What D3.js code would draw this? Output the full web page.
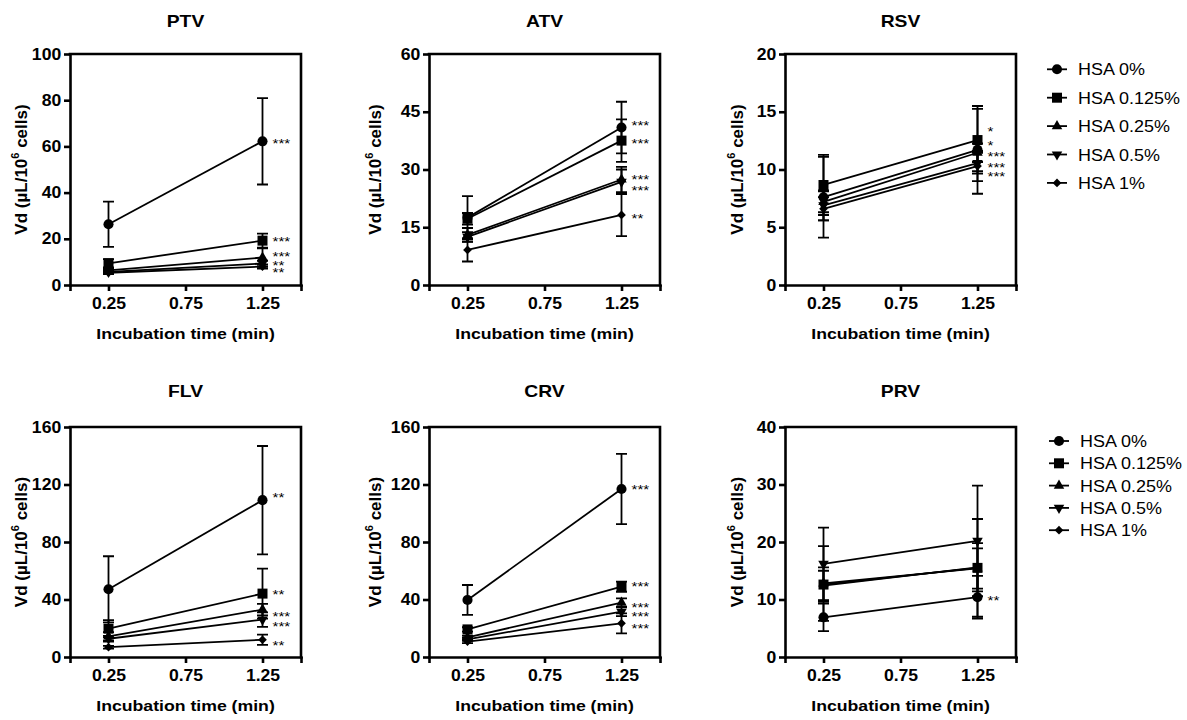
<!DOCTYPE html>
<html>
<head>
<meta charset="utf-8">
<script src="https://cdn.jsdelivr.net/npm/d3@7"></script>
<style>
  body { margin: 0; background: #fff; }
  svg { display: block; }
  text { font-family: Arial, "Liberation Sans", Helvetica, sans-serif; fill: #000; }
</style>
</head>
<body>
<svg id="chart" width="1187" height="720"></svg>
<script>
// ---- data ----
const times = [0.25, 1.25];
const xTickValues = [0.25, 0.75, 1.25];
const xTickLabels = ["0.25", "0.75", "1.25"];
const seriesNames = ["HSA 0%", "HSA 0.125%", "HSA 0.25%", "HSA 0.5%", "HSA 1%"];
const panelNames = ["PTV", "ATV", "RSV", "FLV", "CRV", "PRV"];

// mean Vd per series: [0.25 min, 1.25 min]
const ptvMean = [[26.3, 62.2], [9.4, 19.2], [6.3, 11.9], [5.7, 9.3], [5.3, 8.0]];
const ptvSD   = [[9.8, 18.7], [1.8, 3.0], [1.0, 4.0], [0.8, 1.2], [0.6, 0.9]];
const ptvStars = ["***", "***", "***", "**", "**"];
const ptvStarAt = [62.8, 20.5, 13.9, 10.1, 6.9];
const ptvTicks = [0, 20, 40, 60, 80, 100];

const atvMean = [[17.5, 40.9], [17.2, 37.5], [13.0, 27.4], [12.5, 26.8], [9.1, 18.2]];
const atvSD   = [[5.6, 6.7], [1.5, 5.5], [1.8, 3.3], [1.2, 3.2], [3.0, 5.5]];
const atvStars = ["***", "***", "***", "***", "**"];
const atvStarAt = [42.3, 37.7, 28.3, 25.5, 18.2];
const atvTicks = [0, 15, 30, 45, 60];

const rsvMean = [[7.6, 11.7], [8.66, 12.55], [7.2, 11.45], [6.9, 10.55], [6.6, 10.3]];
const rsvSD   = [[3.5, 3.8], [2.6, 2.7], [0.9, 0.8], [1.3, 0.9], [1.0, 1.3]];
const rsvStars = ["*", "*", "***", "***", "***"];
const rsvStarAt = [13.6, 12.4, 11.45, 10.5, 9.7];
const rsvTicks = [0, 5, 10, 15, 20];

const flvMean = [[47.1, 109.1], [19.7, 44.1], [14.3, 33.0], [12.7, 26.0], [6.8, 12.0]];
const flvSD   = [[23.0, 37.7], [6.0, 17.4], [3.0, 4.0], [2.0, 5.0], [1.0, 3.6]];
const flvStars = ["**", "**", "***", "***", "**"];
const flvStarAt = [113.3, 46.4, 30.8, 23.8, 10.8];
const flvTicks = [0, 40, 80, 120, 160];

const crvMean = [[39.7, 116.9], [19.2, 48.9], [13.7, 37.8], [12.3, 31.5], [10.7, 23.4]];
const crvSD   = [[10.4, 24.4], [1.5, 3.5], [1.2, 3.0], [1.0, 3.0], [1.0, 7.0]];
const crvStars = ["***", "***", "***", "***", "***"];
const crvStarAt = [119.0, 51.7, 37.3, 30.8, 22.7];
const crvTicks = [0, 40, 80, 120, 160];

const prvMean = [[6.9, 10.4], [12.6, 15.5], [12.8, 15.4], [16.2, 20.2], [12.4, 15.6]];
const prvSD   = [[2.4, 3.7], [3.0, 8.5], [6.5, 3.5], [6.3, 9.6], [2.6, 4.2]];
const prvStars = ["**", "", "", "", ""];
const prvStarAt = [10.5, 0, 0, 0, 0];
const prvTicks = [0, 10, 20, 30, 40];

const yAxisTitle = "Vd (µL/10";
const yAxisSup = "6";
const yAxisTail = " cells)";
const xAxisTitle = "Incubation time (min)";

// ---- layout ----
const layout = {
  cols: [70, 429, 785],
  rows: [54, 427],
  width: 231,
  heights: [231, 230],
  titleY: [26.5, 397],
  yLabelX: [21, 375, 737],
  legendX: [1047, 1049],
  legendY0: [69.3, 441],
  legendDy: [28.4, 22.3]
};

const panels = [
  { mean: ptvMean, sd: ptvSD, stars: ptvStars, starAt: ptvStarAt, ticks: ptvTicks },
  { mean: atvMean, sd: atvSD, stars: atvStars, starAt: atvStarAt, ticks: atvTicks },
  { mean: rsvMean, sd: rsvSD, stars: rsvStars, starAt: rsvStarAt, ticks: rsvTicks },
  { mean: flvMean, sd: flvSD, stars: flvStars, starAt: flvStarAt, ticks: flvTicks },
  { mean: crvMean, sd: crvSD, stars: crvStars, starAt: crvStarAt, ticks: crvTicks },
  { mean: prvMean, sd: prvSD, stars: prvStars, starAt: prvStarAt, ticks: prvTicks }
].map((p, i) => Object.assign(p, { name: panelNames[i], row: Math.floor(i / 3), col: i % 3 }));

const svg = d3.select("#chart");

// marker shapes: circle, square, triangle up, triangle down, diamond
const markers = [
  { path: d3.symbol().type(d3.symbolCircle).size(80)(), rot: 0 },
  { path: d3.symbol().type(d3.symbolSquare).size(100)(), rot: 0 },
  { path: d3.symbol().type(d3.symbolTriangle).size(48)(), rot: 0 },
  { path: d3.symbol().type(d3.symbolTriangle).size(48)(), rot: 180 },
  { path: d3.symbol().type(d3.symbolSquare).size(38)(), rot: 45 }
];

function drawMarker(g, k, x, y) {
  g.append("path")
    .attr("d", markers[k].path)
    .attr("transform", `translate(${x},${y}) rotate(${markers[k].rot})`)
    .attr("fill", "#000");
}

function hText(g, x, y, str, size, weight, anchor, sx) {
  return g.append("text")
    .attr("transform", `translate(${x},${y}) scale(${sx},1)`)
    .attr("text-anchor", anchor)
    .attr("font-size", size)
    .attr("font-weight", weight)
    .text(str);
}

const AX = 2.6, LW = 1.8;

panels.forEach(p => {
  const left = layout.cols[p.col];
  const top = layout.rows[p.row];
  const w = layout.width;
  const h = layout.heights[p.row];
  const bottom = top + h;
  const g = svg.append("g");

  const x = d3.scaleLinear().domain([0, 1.5]).range([left, left + w]);
  const y = d3.scaleLinear().domain([0, d3.max(p.ticks)]).range([bottom, top]);

  // frame: top and right edges
  g.append("path")
    .attr("d", `M${x(0)},${y(d3.max(p.ticks))}H${x(1.5)}V${y(0)}`)
    .attr("fill", "none").attr("stroke", "#000").attr("stroke-width", AX)
    .attr("stroke-linecap", "square");

  // y axis
  const ya = g.append("g").attr("transform", `translate(${left},0)`)
    .call(d3.axisLeft(y).tickValues(p.ticks).tickSize(6).tickSizeOuter(0).tickPadding(2));
  // x axis (end ticks at domain edges carry no label)
  const xa = g.append("g").attr("transform", `translate(0,${bottom})`)
    .call(d3.axisBottom(x).tickValues([0].concat(xTickValues, [1.5])).tickSize(6).tickSizeOuter(0).tickPadding(7)
      .tickFormat(d => { const i = xTickValues.indexOf(d); return i >= 0 ? xTickLabels[i] : ""; }));

  [ya, xa].forEach(a => {
    a.select(".domain").attr("stroke-width", AX).attr("stroke-linecap", "square");
    a.selectAll(".tick line").attr("stroke-width", AX);
    a.selectAll(".tick text")
      .attr("font-size", 16).attr("font-weight", "bold")
      .attr("font-family", "Arial, 'Liberation Sans', sans-serif")
      .attr("fill", "#000")
      .attr("transform", "scale(1.1,1)");
  });

  // title
  hText(g, (left + left + w) / 2, layout.titleY[p.row], p.name, 16.5, "bold", "middle", 1.17);

  // x axis title
  hText(g, (left + left + w) / 2, bottom + 53.5, xAxisTitle, 15.5, "bold", "middle", 1.14);

  // y axis title
  const yt = g.append("text")
    .attr("transform", `translate(${layout.yLabelX[p.col]},${(top + bottom) / 2}) rotate(-90)`)
    .attr("text-anchor", "middle")
    .attr("dy", "0.35em")
    .attr("font-size", 17)
    .attr("font-weight", "bold");
  yt.append("tspan").text(yAxisTitle);
  yt.append("tspan").attr("font-size", 11).attr("dy", "-0.75em").text(yAxisSup);
  yt.append("tspan").attr("dy", "0.48em").text(yAxisTail);

  const line = d3.line().x((d, i) => x(times[i])).y(d => y(d));

  // error bars
  p.mean.forEach((m, k) => {
    m.forEach((v, i) => {
      const s = p.sd[k][i];
      const cx = x(times[i]);
      const y1 = y(v + s), y2 = y(Math.max(0, v - s));
      g.append("path")
        .attr("d", `M${cx},${y1}V${y2}M${cx - 5.5},${y1}H${cx + 5.5}M${cx - 5.5},${y2}H${cx + 5.5}`)
        .attr("fill", "none").attr("stroke", "#000").attr("stroke-width", LW);
    });
  });

  // connecting lines and markers
  p.mean.forEach(m => {
    g.append("path").attr("d", line(m))
      .attr("fill", "none").attr("stroke", "#000").attr("stroke-width", LW);
  });
  p.mean.forEach((m, k) => {
    m.forEach((v, i) => drawMarker(g, k, x(times[i]), y(v)));
  });

  // significance marks at 1.25 min
  p.stars.forEach((s, k) => {
    if (!s) return;
    hText(g, x(times[1]) + 10, y(p.starAt[k]) + 8.2, s, 13.5, "normal", "start", 1.12);
  });
});

// legends, one per row
[0, 1].forEach(r => {
  const g = svg.append("g");
  const lx = layout.legendX[r];
  seriesNames.forEach((name, k) => {
    const yy = layout.legendY0[r] + k * layout.legendDy[r];
    g.append("line").attr("x1", lx).attr("x2", lx + 20).attr("y1", yy).attr("y2", yy)
      .attr("stroke", "#000").attr("stroke-width", LW);
    drawMarker(g, k, lx + 10, yy);
    hText(g, lx + 31, yy + 6, name, 16.5, "normal", "start", 1.09);
  });
});
</script>
</body>
</html>
